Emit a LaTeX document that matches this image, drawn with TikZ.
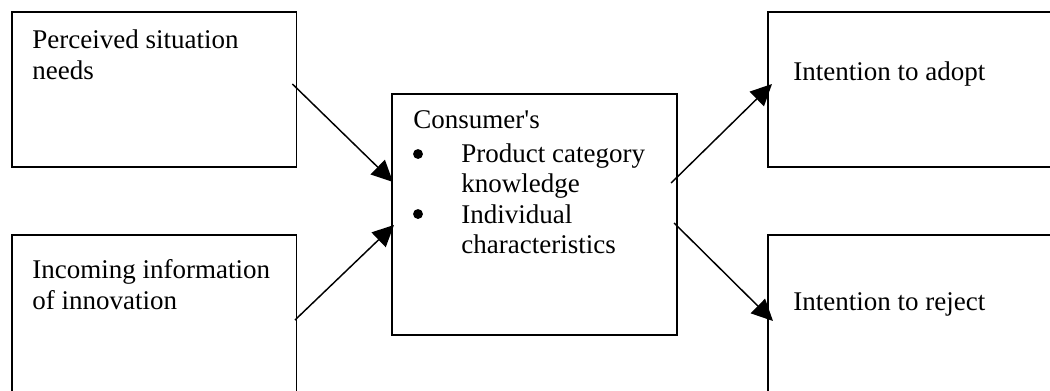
\documentclass[tikz,border=0pt]{standalone}
\usepackage{fontspec}
\setmainfont{Liberation Serif}
\newfontfamily\rawserif{Liberation Serif}
\usetikzlibrary{arrows.meta,calc}
\begin{document}
\begin{tikzpicture}[x=0.4444pt,y=-0.4444pt,
  box/.style={draw,line width=0.7pt,rectangle,inner sep=0pt,outer sep=0pt,anchor=north west,minimum width=126.4pt},
  sbox/.style={box,minimum height=69pt},
  txt/.style={anchor=base west,inner sep=0pt,font=\fontsize{12}{13.8}\selectfont},
  bul/.style={circle,fill,inner sep=0pt,minimum size=4.4pt},
  conn/.style={line width=0.65pt,-{Triangle[length=9.5pt,width=9pt]}}]
\useasboundingbox (0,0) rectangle (1050,390);
% boxes
\node[sbox] (tl) at (12,12) {};
\node[box,minimum height=72pt] (bl) at (12,235) {};
\node[box,minimum width=126.7pt,minimum height=107.1pt] (cb) at (392,94) {};
\node[sbox] (tr) at (768,12) {};
\node[box,minimum height=72pt] (br) at (768,235) {};
% texts
\node[txt] (t1a) at (32,48) {Perceived situation};
\node[txt] (t1b) at (32,79) {needs};
\node[txt] (t2a) at (32,278) {Incoming information};
\node[txt] (t2b) at (32,309) {of innovation};
\node[txt] (c0) at (413,128) {Consumer{\rawserif'}s};
\node[bul] (b1) at (418,154) {};
\node[txt] (c1) at (461,162) {Product category};
\node[txt] (c2) at (461,192) {knowledge};
\node[bul] (b2) at (418,214) {};
\node[txt] (c3) at (461,223) {Individual};
\node[txt] (c4) at (461,253) {characteristics};
\node[txt] (ta) at (793,80) {Intention to adopt};
\node[txt] (tb) at (793,310) {Intention to reject};
% connectors
\draw[conn] ($(tl.north east)+(-4,72)$) -- ($(cb.north west)+(1,88)$);
\draw[conn] ($(bl.north west)+(283,85)$) -- ($(cb.north west)+(2,131)$);
\draw[conn] ($(cb.north east)+(-6,89)$) -- ($(tr.north west)+(4,72)$);
\draw[conn] ($(cb.north east)+(-3,129)$) -- ($(br.north west)+(5,86)$);
\end{tikzpicture}
\end{document}
